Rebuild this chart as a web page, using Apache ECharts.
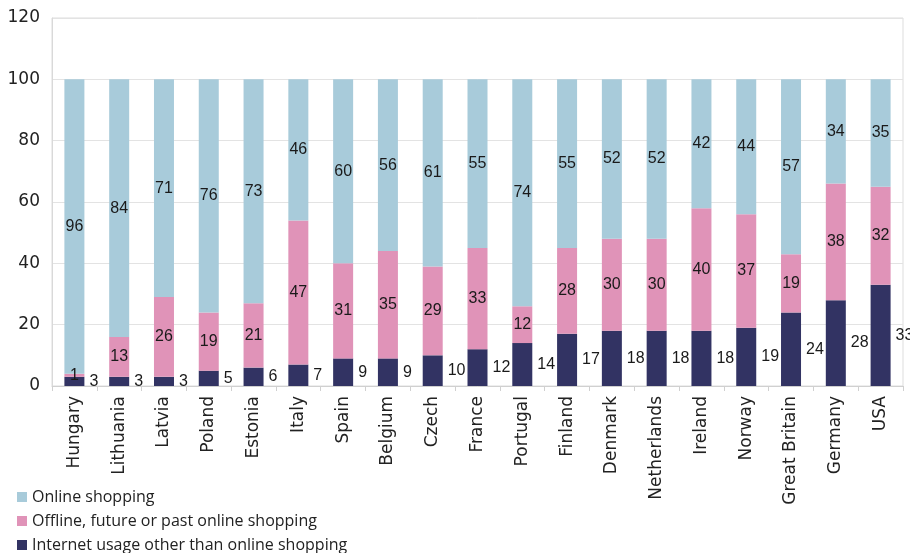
<!DOCTYPE html>
<html>
<head>
<meta charset="utf-8">
<script src="https://cdn.jsdelivr.net/npm/echarts@6/dist/echarts.min.js"></script>
<style>
  html, body { margin: 0; padding: 0; background: #fff; }
  #chart { width: 910px; height: 553px; }
</style>
</head>
<body>
<div id="chart"></div>
<script>
// Countries along the x axis
const countries = ['Hungary', 'Lithuania', 'Latvia', 'Poland', 'Estonia', 'Italy', 'Spain',
  'Belgium', 'Czech', 'France', 'Portugal', 'Finland', 'Denmark', 'Netherlands', 'Ireland',
  'Norway', 'Great Britain', 'Germany', 'USA'];

// Shares per country (%)
const internetOther = [3, 3, 3, 5, 6, 7, 9, 9, 10, 12, 14, 17, 18, 18, 18, 19, 24, 28, 33];
const offlineShopping = [1, 13, 26, 19, 21, 47, 31, 35, 29, 33, 12, 28, 30, 30, 40, 37, 19, 38, 32];
const onlineShopping = [96, 84, 71, 76, 73, 46, 60, 56, 61, 55, 74, 55, 52, 52, 42, 44, 57, 34, 35];

// Value axis ticks
const yTicks = [0, 20, 40, 60, 80, 100, 120];

const labelFont = 'Liberation Sans, Arial, sans-serif';
const axisFont = 'DejaVu Sans, sans-serif';

const chart = echarts.init(document.getElementById('chart'));

chart.setOption({
  animation: false,
  backgroundColor: '#ffffff',
  grid: {
    left: 52, right: 7, top: 18, bottom: 167,
    show: true, borderColor: '#dddddd', borderWidth: 1
  },
  legend: {
    orient: 'vertical',
    left: 12, top: 484, height: 90,
    itemWidth: 10, itemHeight: 10,
    itemGap: 8,
    icon: 'rect',
    textStyle: { fontFamily: 'Open Sans, sans-serif', fontSize: 16, lineHeight: 16, color: '#222' },
    data: ['Online shopping', 'Offline, future or past online shopping', 'Internet usage other than online shopping']
  },
  xAxis: {
    type: 'category',
    data: countries,
    axisLine: { lineStyle: { color: '#d0d0d0' } },
    axisTick: { show: true, length: 5, lineStyle: { color: '#d0d0d0' } },
    axisLabel: {
      rotate: 90, fontFamily: axisFont, fontSize: 17, color: '#222', margin: 10
    }
  },
  yAxis: {
    type: 'value',
    min: yTicks[0], max: yTicks[yTicks.length - 1], interval: yTicks[1] - yTicks[0],
    axisLine: { show: true, lineStyle: { color: '#d9d9d9' } },
    axisTick: { show: false },
    splitLine: { lineStyle: { color: '#e3e3e3' } },
    axisLabel: { fontFamily: axisFont, fontSize: 17, color: '#222', margin: 12 }
  },
  series: [
    {
      name: 'Internet usage other than online shopping',
      type: 'bar', stack: 'total', barWidth: 20,
      data: internetOther,
      itemStyle: { color: '#323363' },
      label: { show: true, position: 'right', distance: 5,
        fontFamily: labelFont, fontSize: 16, color: '#1a1a1a' }
    },
    {
      name: 'Offline, future or past online shopping',
      type: 'bar', stack: 'total', barWidth: 20,
      data: offlineShopping,
      itemStyle: { color: '#e093b8' },
      label: { show: true, position: 'inside',
        fontFamily: labelFont, fontSize: 16, color: '#1a1a1a' }
    },
    {
      name: 'Online shopping',
      type: 'bar', stack: 'total', barWidth: 20,
      data: onlineShopping,
      itemStyle: { color: '#a8cbda' },
      label: { show: true, position: 'inside',
        fontFamily: labelFont, fontSize: 16, color: '#1a1a1a' }
    }
  ]
});
</script>
</body>
</html>
